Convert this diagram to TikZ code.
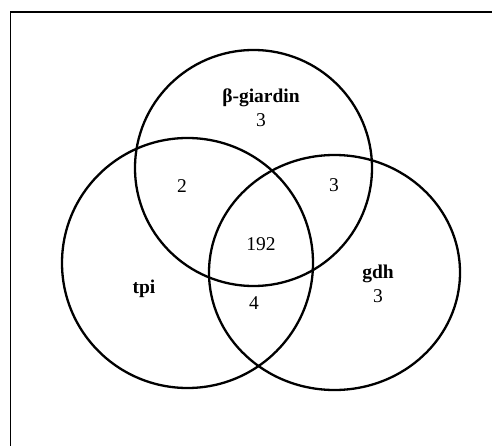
\documentclass[tikz,border=0pt]{standalone}
\usepackage{fontspec}
\setmainfont{Liberation Serif}
\begin{document}
\begin{tikzpicture}[x=1pt,y=-1pt,
  set/.style={line width=2.3pt,draw=black},
  lbl/.style={font=\fontsize{19.5}{21}\selectfont,inner sep=0pt},
  setname/.style={lbl,font=\fontsize{19.5}{21}\selectfont\bfseries}]
\useasboundingbox (0,0) rectangle (492,446);
% outer frame (only its top and left edges fall inside the page)
\draw[line width=1.3pt] (10.5,446) -- (10.5,12) -- (492,12);
% the three sets
\draw[set] (253.5,168) ellipse [x radius=118.5, y radius=118];
\draw[set] (187.5,263) ellipse [x radius=125.5, y radius=125];
\draw[set] (334.5,272.5) ellipse [x radius=125.5, y radius=117.5];
% set names and counts
\node[setname] (bg) at (261,98) {β-giardin};
\node[lbl] (bgn) at (261,120) {3};
\node[setname] (tpi) at (144,289) {tpi};
\node[setname] (gdh) at (378,274) {gdh};
\node[lbl] (gdhn) at (378,296) {3};
\node[lbl] (bt) at (182,186) {2};
\node[lbl] (bgd) at (334,185) {3};
\node[lbl] (all) at (261,244) {192};
\node[lbl] (tg) at (254,303) {4};
\end{tikzpicture}
\end{document}
